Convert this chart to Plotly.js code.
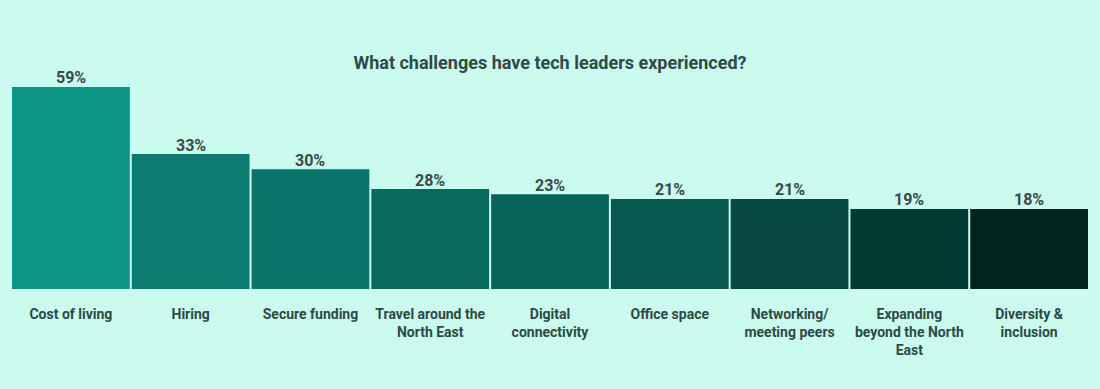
<!DOCTYPE html>
<html>
<head>
<meta charset="utf-8">
<script src="https://cdn.plot.ly/plotly-3.0.1.min.js"></script>
<style>
html,body{margin:0;padding:0;background:#cbfaef;}
#chart{width:1100px;height:389px;}
</style>
</head>
<body>
<div id="chart"></div>
<script>
// Categories (axis labels, line breaks as in the reference)
const categories = [
  "Cost of living",
  "Hiring",
  "Secure funding",
  "Travel around the<br>North East",
  "Digital<br>connectivity",
  "Office space",
  "Networking/<br>meeting peers",
  "Expanding<br>beyond the North<br>East",
  "Diversity &<br>inclusion"
];
// Percentages printed above the bars
const percentLabels = [59, 33, 30, 28, 23, 21, 21, 19, 18];
// Bar heights as drawn in the reference (same % scale as the 59% bar)
const barHeights = [59, 39.4, 35.0, 29.2, 27.7, 26.3, 26.3, 23.4, 23.4];
// Bar colours, light teal to near-black green
const barColors = ["#0c9484", "#0b7c6f", "#0a756a", "#08695f", "#08655b",
                   "#075950", "#064a43", "#043a34", "#032620"];

const trace = {
  type: "bar",
  x: categories,
  y: barHeights,
  marker: {color: barColors},
  hoverinfo: "none"
};

const valueAnnotations = categories.map((c, i) => ({
  x: c,
  y: barHeights[i],
  xref: "x",
  yref: "y",
  text: "<b>" + percentLabels[i] + "%</b>",
  showarrow: false,
  xanchor: "center",
  yanchor: "bottom",
  yshift: -2.5,
  font: {family: "Roboto, sans-serif", size: 16, color: "#384a47"}
}));

const layout = {
  width: 1100,
  height: 389,
  paper_bgcolor: "#cbfaef",
  plot_bgcolor: "#cbfaef",
  margin: {l: 11, r: 11, t: 80, b: 100},
  bargap: 0.0167,
  showlegend: false,
  title: {
    text: "<b>What challenges have tech leaders experienced?</b>",
    font: {family: "Roboto, sans-serif", size: 18, color: "#2e4a46"},
    x: 0.5, xanchor: "center",
    y: 1 - 63/389, yref: "container", yanchor: "middle"
  },
  xaxis: {
    type: "category",
    showgrid: false, zeroline: false, showline: false,
    ticks: "outside", ticklen: 12, tickcolor: "rgba(0,0,0,0)",
    tickfont: {family: "Roboto, sans-serif", size: 14, color: "#2c4a45", weight: 700},
    fixedrange: true
  },
  yaxis: {
    range: [0, 61.04],
    visible: false,
    showgrid: false, zeroline: false,
    fixedrange: true
  },
  annotations: valueAnnotations,
  font: {family: "Roboto, sans-serif"}
};

Plotly.newPlot("chart", [trace], layout, {displayModeBar: false, staticPlot: true});
</script>
</body>
</html>
